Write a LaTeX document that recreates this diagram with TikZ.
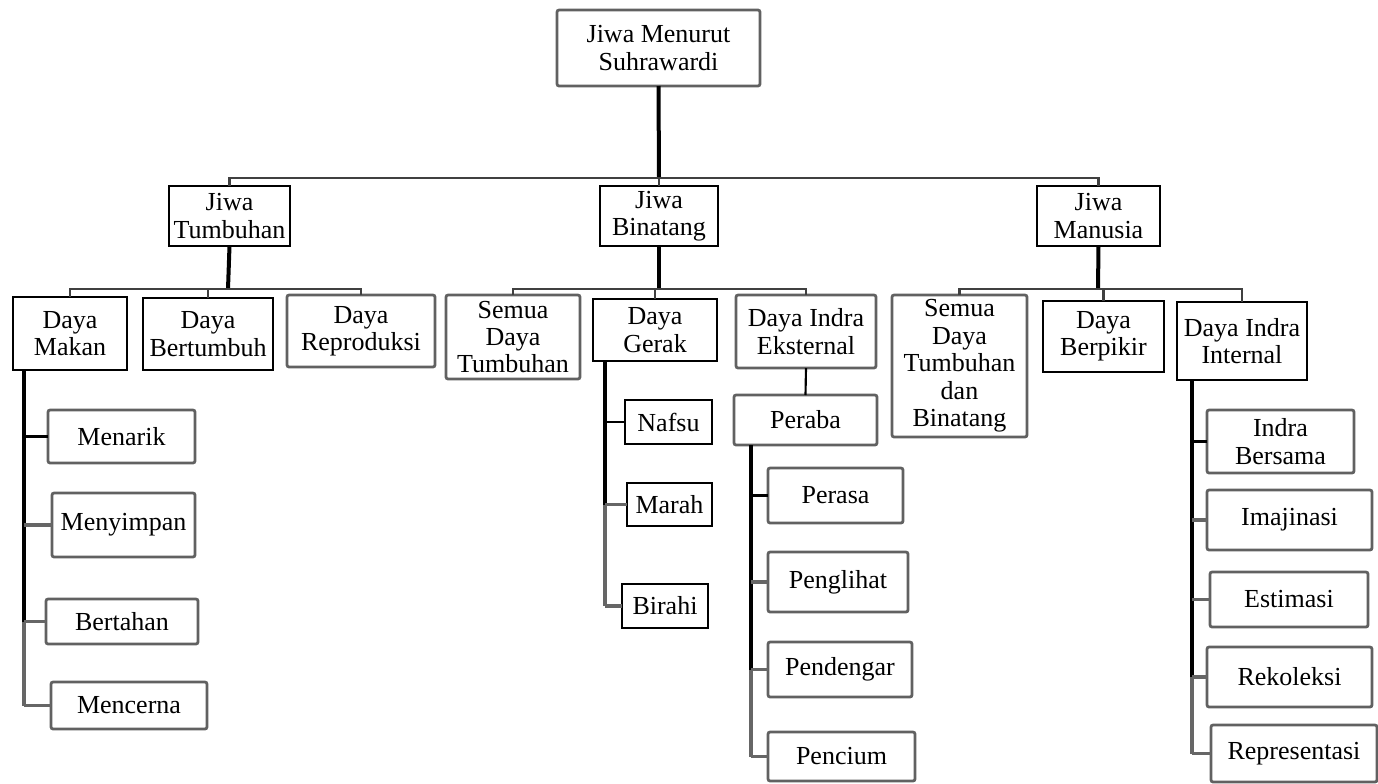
\documentclass[tikz,border=0pt]{standalone}
\usepackage{fontspec}
\setmainfont{Liberation Serif}
\newcommand\boxfont{\fontsize{19.5pt}{20.6pt}\selectfont}
% box from its corners: name, x1, y1, x2, y2, text, style
\newcommand\bx[7]{\node[#7, minimum width={(#4-#2)*0.75pt}, minimum height={(#5-#3)*0.75pt}] (#1) at ({(#2+#4)/2},{(#3+#5)/2}) {#6};}
\tikzset{
  base/.style={fill=white, align=center, inner sep=0pt, outer sep=0pt, font=\boxfont},
  hard/.style={base, draw=black, line width=1.4pt},
  soft/.style={base, draw=black!62, line width=2.1pt, rounded corners=1.6pt},
  trunk/.style={line width=3pt, black},
  limb/.style={line width=1.9pt, black!75},
  tail/.style={line width=2.6pt, black!60},
}
\begin{document}
\begin{tikzpicture}[x=0.75pt, y=-0.75pt]
\useasboundingbox (0,0) rectangle (1378,783);

% level 0 and 1
\bx{root}{557}{10}{760}{86}{Jiwa Menurut\\Suhrawardi}{soft}
\bx{jt}{169}{186}{290}{246}{Jiwa\\Tumbuhan}{hard}
\bx{jb}{600}{186}{718}{246}{Jiwa\\Binatang}{hard}
\bx{jm}{1037}{186}{1160}{246}{Jiwa\\Manusia}{hard}

% level 2
\bx{dm}{13}{297}{127}{370}{Daya\\Makan}{hard}
\bx{db}{143}{298}{273}{370}{Daya\\Bertumbuh}{hard}
\bx{dr}{287}{295}{435}{367}{Daya\\Reproduksi}{soft}
\bx{sd}{446}{295}{580}{379}{Semua\\Daya\\Tumbuhan}{soft}
\bx{dg}{593}{299}{717}{361}{Daya\\Gerak}{hard}
\bx{die}{736}{295}{876}{368}{Daya Indra\\Eksternal}{soft}
\bx{sdb}{892}{295}{1027}{437}{Semua\\Daya\\Tumbuhan\\dan\\Binatang}{soft}
\bx{dbp}{1043}{301}{1164}{372}{Daya\\Berpikir}{hard}
\bx{dii}{1177}{302}{1307}{380}{Daya Indra\\Internal}{hard}

% Daya Makan
\bx{mn}{48}{410}{195}{463}{Menarik}{soft}
\bx{my}{52}{493}{195}{557}{Menyimpan}{soft}
\bx{bt}{46}{599}{198}{644}{Bertahan}{soft}
\bx{mc}{51}{682}{207}{729}{Mencerna}{soft}

% Daya Gerak
\bx{nf}{625}{400}{712}{444}{Nafsu}{hard}
\bx{mr}{627}{483}{712}{526}{Marah}{hard}
\bx{bi}{622}{584}{708}{628}{Birahi}{hard}

% Daya Indra Eksternal
\bx{pr}{734}{395}{877}{445}{Peraba}{soft}
\bx{ps}{768}{468}{903}{523}{Perasa}{soft}
\bx{pl}{768}{552}{908}{612}{Penglihat}{soft}
\bx{pd}{768}{642}{912}{697}{Pendengar}{soft}
\bx{pc}{768}{732}{915}{781}{Pencium}{soft}

% Daya Indra Internal
\bx{ib}{1207}{410}{1354}{473}{Indra\\Bersama}{soft}
\bx{im}{1207}{490}{1372}{550}{Imajinasi}{soft}
\bx{es}{1210}{572}{1368}{627}{Estimasi}{soft}
\bx{rk}{1207}{647}{1372}{707}{Rekoleksi}{soft}
\bx{rp}{1211}{725}{1377}{782}{Representasi}{soft}

% junctions of the horizontal buses
\coordinate (b0) at (659,178);
\coordinate (b1) at (228,289);
\coordinate (b2) at (659,289);
\coordinate (b3) at (1098,289);
% x positions of the vertical spines
\coordinate (s1) at (24,0);
\coordinate (s2) at (605,0);
\coordinate (s3) at (751,0);
\coordinate (s4) at (1192,0);

% root to the three souls
\draw[trunk] (root.south) -- (b0);
\draw[limb] (jt.north) |- (b0) -| (jm.north);
\draw[limb] (b0) -- (jb.north);

% souls to their powers
\draw[trunk] (jt.south) -- (b1);
\draw[limb] (dm.north) |- (b1) -| (dr.north);
\draw[limb] (b1) -| (db.north);

\draw[trunk] (jb.south) -- (b2);
\draw[limb] (sd.north) |- (b2) -| (die.north);
\draw[limb] (b2) -| (dg.north);

\draw[trunk] (jm.south) -- (b3);
\draw[limb] (sdb.north) |- (b3) -| (dii.north);
\draw[limb] (b3) -| (dbp.north);

\draw[line width=1.6pt] (die.south) -- (pr.north);

% spines with their branches
\draw[trunk] (dm.south -| s1) -- (s1 |- bt.west);
\draw[tail] (s1 |- bt.west) -- (s1 |- mc.west);
\draw[limb, black] (s1 |- mn.west) -- (mn.west);
\draw[tail] (s1 |- my.west) -- (my.west);
\draw[tail] (s1 |- bt.west) -- (bt.west);
\draw[tail] (s1 |- mc.west) -- (mc.west);

\draw[trunk] (dg.south -| s2) -- (s2 |- mr.west);
\draw[tail] (s2 |- mr.west) -- (s2 |- bi.west);
\draw[limb, black] (s2 |- nf.west) -- (nf.west);
\draw[tail] (s2 |- mr.west) -- (mr.west);
\draw[tail] (s2 |- bi.west) -- (bi.west);

\draw[trunk] (pr.south -| s3) -- (s3 |- pd.west);
\draw[tail] (s3 |- pd.west) -- (s3 |- pc.west);
\draw[limb, black] (s3 |- ps.west) -- (ps.west);
\draw[tail] (s3 |- pl.west) -- (pl.west);
\draw[tail] (s3 |- pd.west) -- (pd.west);
\draw[tail] (s3 |- pc.west) -- (pc.west);

\draw[trunk] (dii.south -| s4) -- (s4 |- rk.west);
\draw[tail] (s4 |- rk.west) -- (s4 |- rp.west);
\draw[limb, black] (s4 |- ib.west) -- (ib.west);
\draw[tail] (s4 |- im.west) -- (im.west);
\draw[tail] (s4 |- es.west) -- (es.west);
\draw[tail] (s4 |- rk.west) -- (rk.west);
\draw[tail] (s4 |- rp.west) -- (rp.west);
\end{tikzpicture}
\end{document}
